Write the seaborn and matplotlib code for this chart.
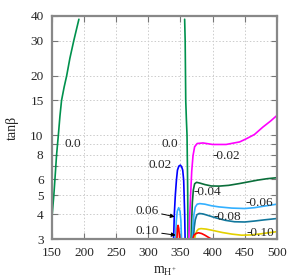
import numpy as np
import pandas as pd
import matplotlib
matplotlib.use("Agg")
import matplotlib.pyplot as plt
import seaborn as sns

# curves: charged Higgs mass vs tan beta
m_left_00 = [150, 150.5, 153, 154.7, 157.3, 160, 162.5, 165, 169, 173, 178, 184, 188, 192]
t_left_00 = [3.65, 4.0, 5.0, 6.0, 8.0, 10, 12.5, 15, 17.5, 20, 24.5, 30, 34, 38.5]

m_right_00 = [356.5, 357.3, 358.2, 359.2, 360.2, 360.8, 361.3, 361.6]
t_right_00 = [38.5, 30, 15, 12, 10, 7, 5, 3]

m_p002 = [339.3, 340.5, 342, 343.7, 345.3, 347.5, 349.8, 351.8, 353.5, 355, 356.5, 357.2]
t_p002 = [3.0, 4.05, 5.0, 5.94, 6.68, 7.0, 7.08, 6.95, 6.68, 5.94, 4.05, 3.0]

m_p006 = [342.3, 343.5, 345, 347.2, 349.3, 350.7, 351.6]
t_p006 = [3.0, 3.7, 4.15, 4.32, 4.15, 3.7, 3.0]

m_p010 = [344.5, 345.3, 346.2, 347.3, 348.8]
t_p010 = [3.0, 3.4, 3.52, 3.4, 3.0]

m_m002 = [363, 364.5, 366, 367.5, 369.5, 372, 376, 385, 400, 421, 442, 452, 465, 478, 490, 500]
t_m002 = [3.0, 4.0, 5.2, 6.6, 7.9, 8.76, 9.1, 9.16, 9.0, 9.0, 9.27, 9.6, 10.1, 11.0, 11.8, 12.6]

m_m004 = [366.5, 367.5, 368.5, 370, 372, 375, 380, 388, 398, 410, 425, 442, 458, 470, 485, 500]
t_m004 = [3.0, 3.8, 4.6, 5.3, 5.7, 5.8, 5.75, 5.65, 5.56, 5.55, 5.6, 5.72, 5.85, 5.95, 6.05, 6.12]

m_m006 = [368, 369.5, 371, 373, 376, 380, 388, 398, 410, 430, 450, 465, 480, 500]
t_m006 = [3.0, 3.5, 4.0, 4.35, 4.5, 4.53, 4.5, 4.42, 4.36, 4.3, 4.28, 4.32, 4.4, 4.5]

m_m008 = [370, 371.5, 373, 375.5, 379, 385, 395, 405, 420, 434, 450, 465, 480, 500]
t_m008 = [3.0, 3.45, 3.75, 3.98, 4.04, 4.02, 3.93, 3.84, 3.73, 3.67, 3.66, 3.7, 3.75, 3.81]

m_m010 = [372, 373.5, 375.5, 378, 382, 390, 400, 415, 430, 445, 460, 475, 490, 500]
t_m010 = [3.0, 3.18, 3.3, 3.37, 3.39, 3.37, 3.32, 3.24, 3.18, 3.14, 3.15, 3.19, 3.24, 3.27]

m_m012 = [369, 371, 374, 378, 383, 388, 393, 398.5]
t_m012 = [3.0, 3.14, 3.2, 3.23, 3.2, 3.14, 3.07, 3.0]

curves = [
    (m_left_00, t_left_00, "#00914d"),
    (m_right_00, t_right_00, "#00914d"),
    (m_p002, t_p002, "#0000ff"),
    (m_p006, t_p006, "#33b0ff"),
    (m_p010, t_p010, "#ff0000"),
    (m_m002, t_m002, "#ff00ff"),
    (m_m004, t_m004, "#0a6e3a"),
    (m_m006, t_m006, "#33b0ff"),
    (m_m008, t_m008, "#12779c"),
    (m_m010, t_m010, "#e3d000"),
    (m_m012, t_m012, "#ff0000"),
]

label_text = ["0.0", "0.0", "0.02", "-0.02", "-0.04", "-0.06", "-0.08", "-0.10"]
label_m = [183, 333, 318, 421, 392, 472, 423, 475]
label_t = [9.1, 9.1, 7.07, 7.86, 5.19, 4.55, 3.86, 3.21]

sns.set_theme(style="ticks")
plt.rcParams['font.family'] = ['Liberation Serif', 'DejaVu Serif']
plt.rcParams['mathtext.fontset'] = 'custom'
plt.rcParams['mathtext.rm'] = 'Liberation Serif'
plt.rcParams['mathtext.it'] = 'Liberation Serif:italic'

fig = plt.figure(figsize=(3.0, 2.8), dpi=100)
ax = fig.add_axes([0.173, 0.146, 0.75, 0.797])

for m, t, c in curves:
    df = pd.DataFrame({"m": m, "t": t})
    sns.lineplot(data=df, x="m", y="t", sort=False, estimator=None, color=c, lw=1.2, ax=ax)

ax.set_yscale("log")
ax.set_xlim(150, 500)
ax.set_ylim(3, 40)
ax.set_xticks(np.arange(150, 501, 50))
yt = [3, 4, 5, 6, 7, 8, 9, 10, 15, 20, 30, 40]
ax.set_yticks(yt)
ax.set_yticklabels(["" if v in (7, 9) else str(v) for v in yt])
ax.minorticks_off()
ax.tick_params(direction="in", length=4, width=0.8, color="#777777", labelsize=9.5,
               top=True, right=True)
ax.tick_params(axis="y", pad=6)
ax.tick_params(axis="x", pad=6)
for s in ax.spines.values():
    s.set_color("#888888")
    s.set_linewidth(1.6)
ax.grid(True, ls=(0, (1.5, 2)), color="#cccccc", lw=0.7)

for txt, m, t in zip(label_text, label_m, label_t):
    ax.text(m, t, txt, fontsize=9.5, ha="center", va="center")

ax.annotate("0.06", xy=(341, 3.89), xytext=(297.6, 4.17), fontsize=9.5, ha="center", va="center",
            arrowprops=dict(arrowstyle="-|>", color="black", lw=0.7, mutation_scale=6,
                            shrinkA=11, shrinkB=0))
ax.annotate("0.10", xy=(342.6, 3.14), xytext=(297.6, 3.29), fontsize=9.5, ha="center", va="center",
            arrowprops=dict(arrowstyle="-|>", color="black", lw=0.7, mutation_scale=6,
                            shrinkA=11, shrinkB=0))

ax.set_xlabel(r"$\mathrm{m}_{\mathrm{H}^{+}}$", fontsize=10, labelpad=4)
ax.set_ylabel("tanβ", fontsize=10, labelpad=8)

plt.savefig("out.png", dpi=100)
